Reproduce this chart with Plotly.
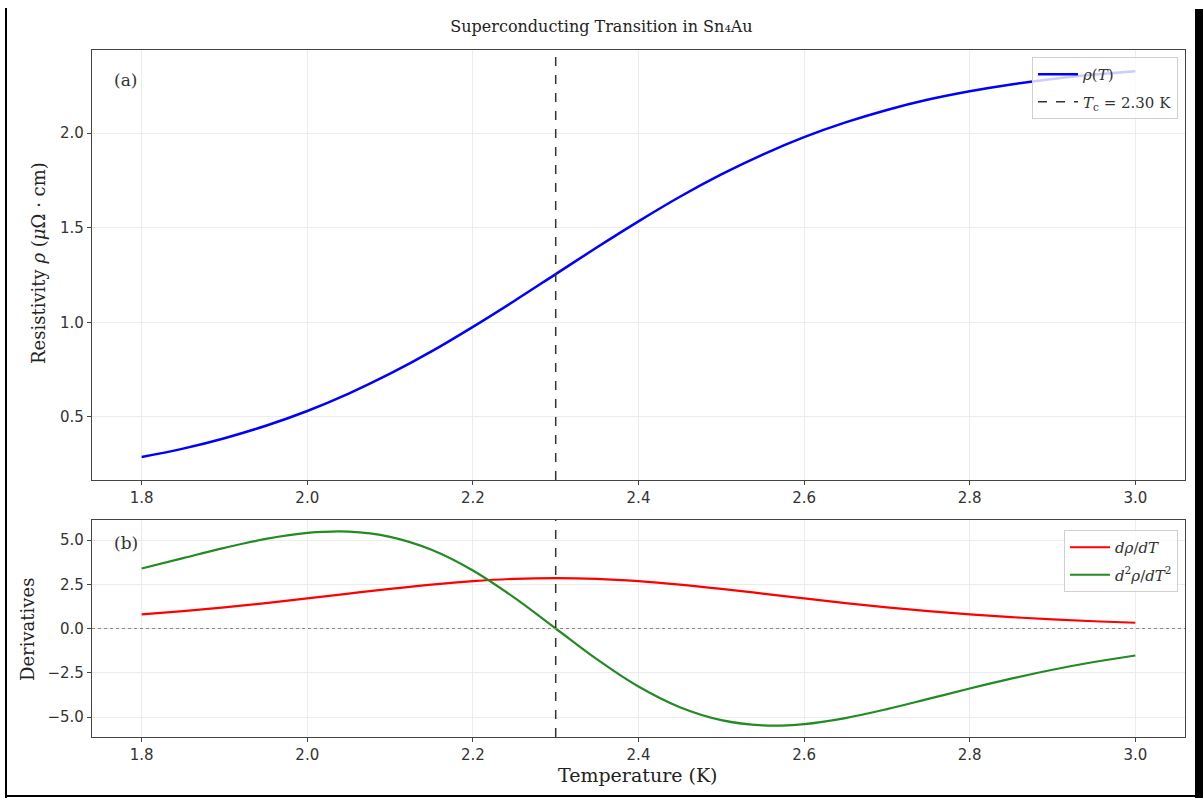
import plotly.graph_objects as go

# Temperature grid (K)
temperature = [1.80, 1.85, 1.90, 1.95, 2.00, 2.05, 2.10, 2.15, 2.20, 2.25, 2.30, 2.35,
               2.40, 2.45, 2.50, 2.55, 2.60, 2.65, 2.70, 2.75, 2.80, 2.85, 2.90, 2.95, 3.00]
# Resistivity (μΩ·cm)
resistivity = [0.288, 0.332, 0.387, 0.453, 0.531, 0.623, 0.728, 0.846, 0.976, 1.113, 1.255, 1.397,
               1.534, 1.664, 1.782, 1.887, 1.979, 2.057, 2.123, 2.178, 2.222, 2.258, 2.287, 2.310, 2.328]
# First derivative
drho_dT = [0.799, 0.983, 1.197, 1.438, 1.700, 1.973, 2.241, 2.484, 2.679, 2.806, 2.850, 2.806,
           2.679, 2.484, 2.241, 1.973, 1.700, 1.438, 1.197, 0.983, 0.799, 0.644, 0.515, 0.410, 0.324]
# Second derivative
d2rho_dT2 = [3.390, 3.979, 4.558, 5.061, 5.400, 5.473, 5.179, 4.451, 3.281, 1.745, 0.000, -1.745,
             -3.281, -4.451, -5.179, -5.473, -5.400, -5.061, -4.558, -3.979, -3.390, -2.833, -2.331, -1.895, -1.527]
Tc = 2.30

x_ticks = [1.8, 2.0, 2.2, 2.4, 2.6, 2.8, 3.0]
y1_ticks = [0.5, 1.0, 1.5, 2.0]
y2_ticks = [-5.0, -2.5, 0.0, 2.5, 5.0]

W, H = 1203, 798
SERIF = "DejaVu Serif"
SANS = "DejaVu Sans"

fig = go.Figure()

fig.add_trace(go.Scatter(x=temperature, y=resistivity, mode="lines", line=dict(color="#0000ff", width=2.5, shape="spline"),
                         name="<i>ρ</i>(<i>T</i>)", xaxis="x", yaxis="y", legend="legend", legendgroup="a1"))
fig.add_trace(go.Scatter(x=[Tc, Tc], y=[0.166, 2.44], mode="lines", line=dict(color="#333333", width=1.5, dash="dash"),
                         name="<i>T</i><sub>c</sub> = 2.30 K", xaxis="x", yaxis="y", legend="legend", legendgroup="a2"))
fig.add_trace(go.Scatter(x=temperature, y=drho_dT, mode="lines", line=dict(color="#ff0000", width=2.2, shape="spline"),
                         name="<i>dρ</i>/<i>dT</i>", xaxis="x2", yaxis="y2", legend="legend2", legendgroup="b1"))
fig.add_trace(go.Scatter(x=temperature, y=d2rho_dT2, mode="lines", line=dict(color="#228B22", width=2.2, shape="spline"),
                         name="<i>d</i><sup>2</sup><i>ρ</i>/<i>dT</i><sup>2</sup>", xaxis="x2", yaxis="y2", legend="legend2", legendgroup="b2"))
fig.add_trace(go.Scatter(x=[Tc, Tc], y=[-6.13, 6.13], mode="lines", line=dict(color="#333333", width=1.5, dash="dash"),
                         showlegend=False, xaxis="x2", yaxis="y2", hoverinfo="skip"))
fig.add_trace(go.Scatter(x=[1.74, 3.06], y=[0, 0], mode="lines", line=dict(color="#888888", width=1, dash="dot"),
                         showlegend=False, xaxis="x2", yaxis="y2", hoverinfo="skip"))

xd = [92 / W, 1185 / W]
y1d = [1 - 480 / H, 1 - 50 / H]
y2d = [1 - 737 / H, 1 - 520 / H]

axis_common = dict(showline=True, linecolor="#444444", linewidth=1.2, mirror=True, ticks="outside", ticklen=4,
                   tickcolor="#444444", showgrid=True, gridcolor="#ececec", gridwidth=1, zeroline=False,
                   tickfont=dict(family=SANS, size=15, color="#333333"))

fig.update_layout(
    width=W, height=H, margin=dict(l=0, r=0, t=0, b=0),
    plot_bgcolor="white", paper_bgcolor="white",
    title=dict(text="Superconducting Transition in Sn₄Au", x=0.5, xanchor="center", y=1 - 26 / H, yanchor="middle",
               font=dict(family=SERIF, size=16, color="#222222")),
    xaxis=dict(domain=xd, range=[1.74, 3.06], tickvals=x_ticks, ticktext=[f"{v:.1f}" for v in x_ticks], anchor="y", **axis_common),
    yaxis=dict(domain=y1d, range=[0.166, 2.44], tickvals=y1_ticks, ticktext=[f"{v:.1f}" for v in y1_ticks], anchor="x", **axis_common),
    xaxis2=dict(domain=xd, range=[1.74, 3.06], tickvals=x_ticks, ticktext=[f"{v:.1f}" for v in x_ticks], anchor="y2", **axis_common),
    yaxis2=dict(domain=y2d, range=[-6.13, 6.13], tickvals=y2_ticks, ticktext=[f"{v:.1f}".replace("-", "−") for v in y2_ticks], anchor="x2", **axis_common),
    legend=dict(x=1178 / W, y=1 - 57 / H, xref="paper", yref="paper", xanchor="right", yanchor="top",
                bgcolor="rgba(255,255,255,0.8)", bordercolor="#d0d0d0", borderwidth=1, itemwidth=40,
                tracegroupgap=5, font=dict(family=SERIF, size=15, color="#333333")),
    legend2=dict(x=1178 / W, y=1 - 530 / H, xanchor="right", yanchor="top",
                 bgcolor="rgba(255,255,255,0.8)", bordercolor="#d0d0d0", borderwidth=1, itemwidth=40,
                 tracegroupgap=5, font=dict(family=SERIF, size=15, color="#333333")),
    showlegend=True,
)

fig.add_annotation(text="(a)", x=112 / W, y=1 - 80 / H, xref="paper", yref="paper", xanchor="left", yanchor="middle",
                   showarrow=False, font=dict(family=SERIF, size=17, color="#333333"))
fig.add_annotation(text="(b)", x=112 / W, y=1 - 543 / H, xref="paper", yref="paper", xanchor="left", yanchor="middle",
                   showarrow=False, font=dict(family=SERIF, size=17, color="#333333"))
fig.add_annotation(text="Resistivity <i>ρ</i> (<i>μ</i>Ω · cm)", x=38 / W, y=1 - 263 / H, xref="paper", yref="paper",
                   xanchor="center", yanchor="middle",
                   textangle=-90, showarrow=False, font=dict(family=SERIF, size=18, color="#222222"))
fig.add_annotation(text="Derivatives", x=27 / W, y=1 - 630 / H, xref="paper", yref="paper",
                   xanchor="center", yanchor="middle",
                   textangle=-90, showarrow=False, font=dict(family=SERIF, size=18, color="#222222"))
fig.add_annotation(text="Temperature (K)", x=638 / W, y=1 - 775 / H, xref="paper", yref="paper",
                   xanchor="center", yanchor="middle",
                   showarrow=False, font=dict(family=SERIF, size=19, color="#222222"))

# outer frame of the screenshot
fig.add_shape(type="line", xref="paper", yref="paper", x0=6 / W, x1=6 / W, y0=0, y1=1 - 8 / H, line=dict(color="black", width=2))
fig.add_shape(type="line", xref="paper", yref="paper", x0=6 / W, x1=1, y0=1 - 796 / H, y1=1 - 796 / H, line=dict(color="black", width=2))
fig.add_shape(type="rect", xref="paper", yref="paper", x0=1195 / W, x1=1, y0=0, y1=1 - 9 / H, fillcolor="black", line=dict(width=0))

fig.write_html("out.html")
